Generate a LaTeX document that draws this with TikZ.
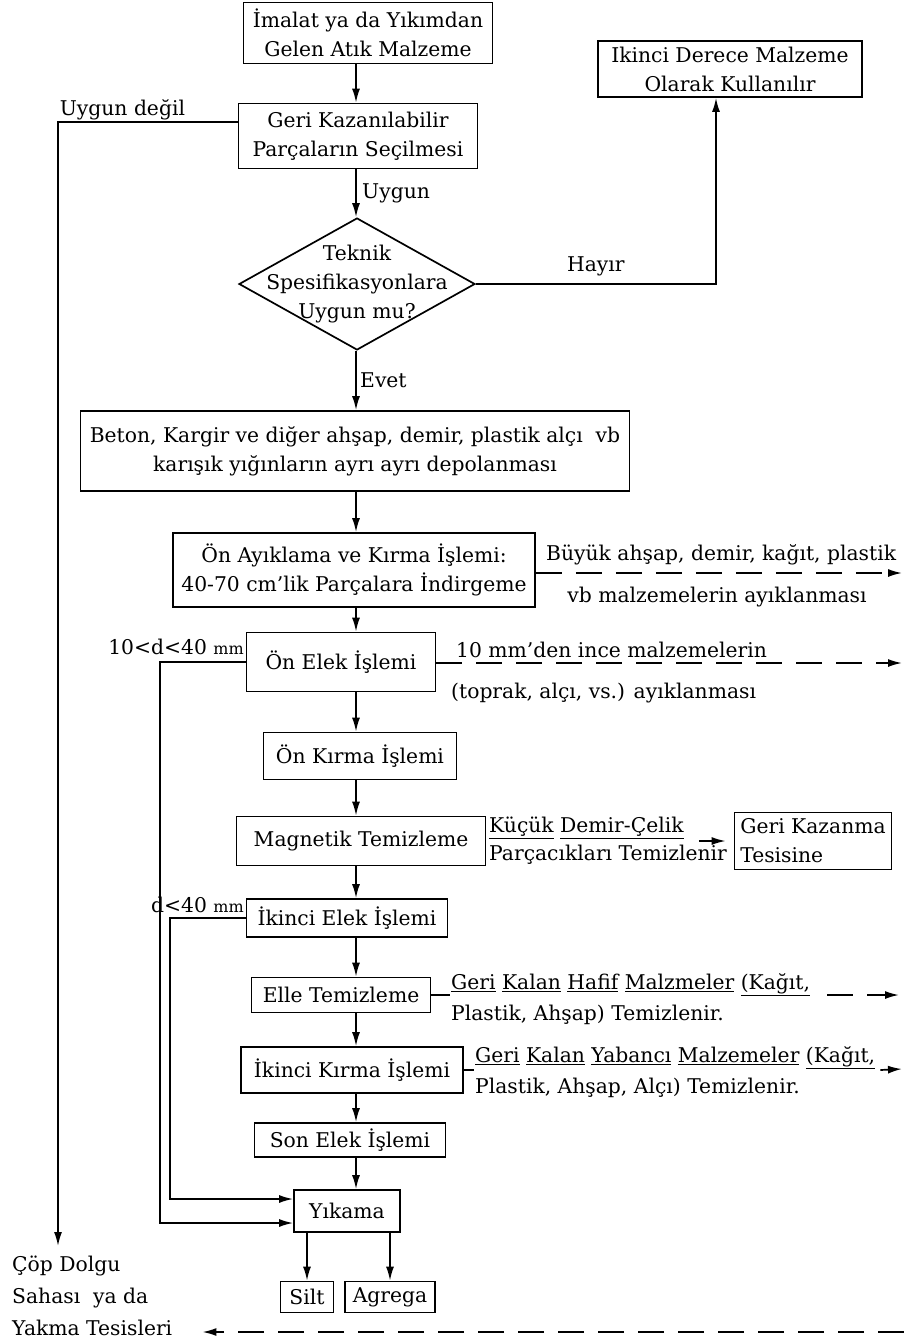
\documentclass[tikz,border=0pt]{standalone}
\usepackage{fontspec}
\setmainfont{DejaVu Serif}
\usetikzlibrary{arrows.meta, positioning, shapes.geometric}

\newcommand{\kucukyazi}{\fontsize{16}{18}\selectfont}

\tikzset{
  islem/.style={draw, line width=1.7pt, align=center, inner sep=2pt},
  karar/.style={draw, diamond, line width=1.7pt, inner sep=0pt},
  notu/.style={align=left, inner sep=1pt},
  ok/.style={->, line width=1.7pt},
  kesik/.style={->, line width=1.7pt, dash pattern=on 26pt off 14pt},
}

\begin{document}
\begin{tikzpicture}[x=1pt, y=-1pt, font=\fontsize{20.3}{29}\selectfont,
    >={Latex[length=14pt,width=8pt]}]
  \useasboundingbox (0,0) rectangle (904,1339);

  % ana kutular
  \node[islem, minimum width=249pt, minimum height=61pt] (imalat) at (368,33) {İmalat ya da Yıkımdan\\Gelen Atık Malzeme};
  \node[islem, minimum width=264pt, minimum height=56pt] (ikinci) at (730,69) {Ikinci Derece Malzeme\\Olarak Kullanılır};
  \node[islem, minimum width=239pt, minimum height=65pt] (secim) at (358,136) {Geri Kazanılabilir\\Parçaların Seçilmesi};
  \node[karar, minimum width=236pt, minimum height=132pt] (teknik) at (357,284) {};
  \node[align=center, inner sep=0pt] (teknikyazi) at (teknik.center) {Teknik\\Spesifikasyonlara\\Uygun mu?};
  \node[islem, minimum width=549pt, minimum height=80pt] (beton) at (355,451) {Beton, Kargir ve diğer ahşap, demir, plastik alçı~ vb\\karışık yığınların ayrı ayrı depolanması};
  \node[islem, minimum width=362pt, minimum height=74pt] (onayik) at (354,570) {Ön Ayıklama ve Kırma İşlemi:\\40-70 cm'lik Parçalara İndirgeme};
  \node[islem, minimum width=189pt, minimum height=59pt] (onelek) at (341,662) {Ön Elek İşlemi};
  \node[islem, minimum width=193pt, minimum height=47pt] (onkirma) at (360,756) {Ön Kırma İşlemi};
  \node[islem, minimum width=249pt, minimum height=49pt] (magnetik) at (361,841) {Magnetik Temizleme};
  \node[islem, minimum width=157pt, minimum height=57pt, align=left] (gerikaz) at (813,841) {Geri Kazanma\\Tesisine};
  \node[islem, minimum width=201pt, minimum height=38pt] (ikincielek) at (347,918) {İkinci Elek İşlemi};
  \node[islem, minimum width=179pt, minimum height=35pt] (elle) at (341,995) {Elle Temizleme};
  \node[islem, minimum width=222pt, minimum height=46pt] (ikincikirma) at (352,1070) {İkinci Kırma İşlemi};
  \node[islem, minimum width=191pt, minimum height=34pt] (sonelek) at (350,1140) {Son Elek İşlemi};
  \node[islem, minimum width=106pt, minimum height=42pt] (yikama) at (347,1211) {Yıkama};
  \node[islem, minimum width=53pt, minimum height=31pt, inner sep=1pt] (silt) at (307,1297) {Silt};
  \node[islem, minimum width=90pt, minimum height=31pt, inner sep=1pt] (agrega) at (390,1297) {Agrega};

  % yan yazilar
  \node[notu, anchor=west] (buyuk) at (545,555) {Büyük ahşap, demir, kağıt, plastik};
  \node[notu] (buyukalt) at (717,597) {vb malzemelerin ayıklanması};
  \node[notu, anchor=base east] (araluk) at (245,654) {10<d<40 {\kucukyazi mm}};
  \node[notu, anchor=west] (ince) at (455,650) {10 mm'den ince malzemelerin};
  \node[notu, anchor=west] (toprak) at (450,693) {(toprak, alçı, vs.) ayıklanması};
  \node[notu, anchor=west] (demir) at (488,828) {\underline{Küçük} \underline{Demir-Çelik}};
  \node[notu, anchor=west] (parcacik) at (488,855) {Parçacıkları Temizlenir};
  \node[notu, anchor=base east] (kirk) at (245,912) {d<40 {\kucukyazi mm}};
  \node[notu, anchor=west] (hafif) at (450,985) {\underline{Geri} \underline{Kalan} \underline{Hafif} \underline{Malzmeler} \underline{(Kağıt,}};
  \node[notu, anchor=west] (hafifalt) at (450,1015) {Plastik, Ahşap) Temizlenir.};
  \node[notu, anchor=west] (yabanci) at (474,1058) {\underline{Geri} \underline{Kalan} \underline{Yabancı} \underline{Malzemeler} \underline{(Kağıt,}};
  \node[notu, anchor=west] (yabancialt) at (474,1088) {Plastik, Ahşap, Alçı) Temizlenir.};
  \node[notu, anchor=north west, inner sep=0pt, font=\fontsize{20.3}{32}\selectfont] (cop) at (12,1256) {Çöp Dolgu\\Sahası~ ya da\\Yakma Tesisleri};

  \coordinate (omurga) at (356,0);
  \coordinate (uygdegil) at (58,122);
  \coordinate (sol1) at (160,0);
  \coordinate (sol2) at (170,0);
  \coordinate (sag1) at (902,573);
  \coordinate (sag2) at (902,663);
  \coordinate (sag3) at (899,995);
  \coordinate (sag4) at (902,1069);
  \coordinate (sagalt) at (904,1332);

  % ana akis
  \draw[ok] (imalat.south -| omurga) -- (secim.north -| omurga);
  \draw[ok] (secim.south -| omurga) -- node[right, xshift=2pt] (uygun) {Uygun} (teknik.north -| omurga);
  \draw[ok] (teknik.south -| omurga) -- node[right] (evet) {Evet} (beton.north -| omurga);
  \draw[ok] (teknik.east) -| node[pos=0.25, above, yshift=4pt] (hayir) {Hayır} ([xshift=-14pt]ikinci.south);
  \draw[ok, shorten >=10pt] ([yshift=14pt]secim.west) -- (uygdegil) node[above right, inner sep=1pt] (uygdegilyazi) {Uygun değil} -- (uygdegil |- cop.north);
  \path[ok]
    (beton.south -| omurga) edge (onayik.north -| omurga)
    (onayik.south -| omurga) edge (onelek.north -| omurga)
    (onelek.south -| omurga) edge (onkirma.north -| omurga)
    (onkirma.south -| omurga) edge (magnetik.north -| omurga)
    (magnetik.south -| omurga) edge (ikincielek.north -| omurga)
    (ikincielek.south -| omurga) edge (elle.north -| omurga)
    (elle.south -| omurga) edge (ikincikirma.north -| omurga)
    (ikincikirma.south -| omurga) edge (sonelek.north -| omurga)
    (sonelek.south -| omurga) edge (yikama.north -| omurga);
  \draw[ok] (yikama.south -| silt) -- (silt.north);
  \draw[ok] (yikama.south -| agrega) -- (agrega.north);

  % elek geri donusleri
  \draw[ok] (onelek.west) -| ([yshift=-12pt]yikama.west -| sol1) -- ([yshift=-12pt]yikama.west);
  \draw[ok] (ikincielek.west) -| ([yshift=12pt]yikama.west -| sol2) -- ([yshift=12pt]yikama.west);

  % ayiklanan malzemeler
  \draw[kesik] (onayik.east |- sag1) -- (sag1);
  \draw[kesik] (onelek.east |- sag2) -- (sag2);
  \draw[kesik, shorten >=8pt] ([xshift=14pt]demir.east |- magnetik.east) -- (gerikaz.west);
  \draw[line width=1.7pt] (elle.east) -- (elle.east -| hafif.west);
  \draw[kesik] ([xshift=16pt]hafif.east |- elle.east) -- (sag3);
  \draw[line width=1.7pt] (ikincikirma.east) -- (ikincikirma.east -| yabanci.west);
  \draw[ok] ([xshift=4pt]yabanci.east |- ikincikirma.east) -- (sag4);
  \draw[kesik] (sagalt) -- ([xshift=30pt]cop.east |- sagalt);
\end{tikzpicture}
\end{document}
